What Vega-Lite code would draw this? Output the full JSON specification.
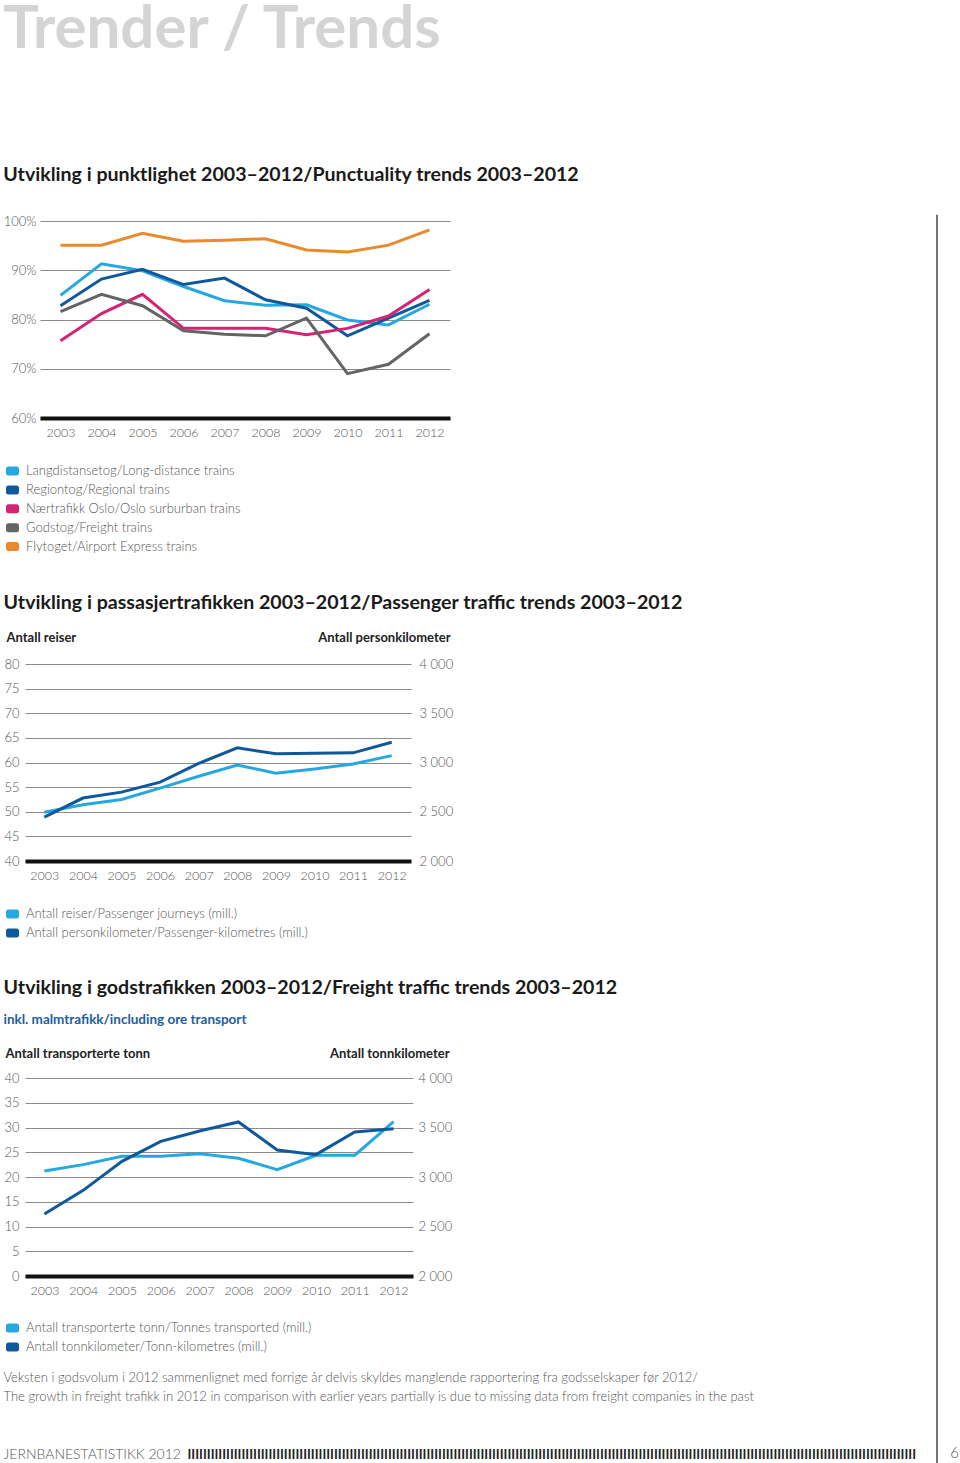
{
  "$schema": "https://vega.github.io/schema/vega-lite/v6.json",
  "background": "white",
  "padding": {"left": 3, "top": 0, "right": 0, "bottom": 0},
  "title": {"text": "Trender / Trends", "anchor": "start", "frame": "bounds", "fontSize": 60, "font": "Lato", "fontWeight": "bold", "color": "#d4d4d4", "offset": 96, "dy": -8},
  "datasets": {
    "punct": [
      {"year": "2003", "series": "Langdistansetog/Long-distance trains", "pct": 84.9},
      {"year": "2004", "series": "Langdistansetog/Long-distance trains", "pct": 91.3},
      {"year": "2005", "series": "Langdistansetog/Long-distance trains", "pct": 89.9},
      {"year": "2006", "series": "Langdistansetog/Long-distance trains", "pct": 86.7},
      {"year": "2007", "series": "Langdistansetog/Long-distance trains", "pct": 83.8},
      {"year": "2008", "series": "Langdistansetog/Long-distance trains", "pct": 82.9},
      {"year": "2009", "series": "Langdistansetog/Long-distance trains", "pct": 83.0},
      {"year": "2010", "series": "Langdistansetog/Long-distance trains", "pct": 79.9},
      {"year": "2011", "series": "Langdistansetog/Long-distance trains", "pct": 78.9},
      {"year": "2012", "series": "Langdistansetog/Long-distance trains", "pct": 83.1},
      {"year": "2003", "series": "Regiontog/Regional trains", "pct": 82.8},
      {"year": "2004", "series": "Regiontog/Regional trains", "pct": 88.2},
      {"year": "2005", "series": "Regiontog/Regional trains", "pct": 90.2},
      {"year": "2006", "series": "Regiontog/Regional trains", "pct": 87.1},
      {"year": "2007", "series": "Regiontog/Regional trains", "pct": 88.4},
      {"year": "2008", "series": "Regiontog/Regional trains", "pct": 84.0},
      {"year": "2009", "series": "Regiontog/Regional trains", "pct": 82.3},
      {"year": "2010", "series": "Regiontog/Regional trains", "pct": 76.7},
      {"year": "2011", "series": "Regiontog/Regional trains", "pct": 80.3},
      {"year": "2012", "series": "Regiontog/Regional trains", "pct": 83.9},
      {"year": "2003", "series": "Nærtrafikk Oslo/Oslo surburban trains", "pct": 75.7},
      {"year": "2004", "series": "Nærtrafikk Oslo/Oslo surburban trains", "pct": 81.2},
      {"year": "2005", "series": "Nærtrafikk Oslo/Oslo surburban trains", "pct": 85.1},
      {"year": "2006", "series": "Nærtrafikk Oslo/Oslo surburban trains", "pct": 78.2},
      {"year": "2007", "series": "Nærtrafikk Oslo/Oslo surburban trains", "pct": 78.2},
      {"year": "2008", "series": "Nærtrafikk Oslo/Oslo surburban trains", "pct": 78.2},
      {"year": "2009", "series": "Nærtrafikk Oslo/Oslo surburban trains", "pct": 76.9},
      {"year": "2010", "series": "Nærtrafikk Oslo/Oslo surburban trains", "pct": 78.2},
      {"year": "2011", "series": "Nærtrafikk Oslo/Oslo surburban trains", "pct": 80.7},
      {"year": "2012", "series": "Nærtrafikk Oslo/Oslo surburban trains", "pct": 86.1},
      {"year": "2003", "series": "Godstog/Freight trains", "pct": 81.6},
      {"year": "2004", "series": "Godstog/Freight trains", "pct": 85.1},
      {"year": "2005", "series": "Godstog/Freight trains", "pct": 82.8},
      {"year": "2006", "series": "Godstog/Freight trains", "pct": 77.7},
      {"year": "2007", "series": "Godstog/Freight trains", "pct": 77.0},
      {"year": "2008", "series": "Godstog/Freight trains", "pct": 76.7},
      {"year": "2009", "series": "Godstog/Freight trains", "pct": 80.3},
      {"year": "2010", "series": "Godstog/Freight trains", "pct": 69.0},
      {"year": "2011", "series": "Godstog/Freight trains", "pct": 70.9},
      {"year": "2012", "series": "Godstog/Freight trains", "pct": 77.1},
      {"year": "2003", "series": "Flytoget/Airport Express trains", "pct": 95.1},
      {"year": "2004", "series": "Flytoget/Airport Express trains", "pct": 95.1},
      {"year": "2005", "series": "Flytoget/Airport Express trains", "pct": 97.5},
      {"year": "2006", "series": "Flytoget/Airport Express trains", "pct": 95.9},
      {"year": "2007", "series": "Flytoget/Airport Express trains", "pct": 96.1},
      {"year": "2008", "series": "Flytoget/Airport Express trains", "pct": 96.4},
      {"year": "2009", "series": "Flytoget/Airport Express trains", "pct": 94.1},
      {"year": "2010", "series": "Flytoget/Airport Express trains", "pct": 93.7},
      {"year": "2011", "series": "Flytoget/Airport Express trains", "pct": 95.1},
      {"year": "2012", "series": "Flytoget/Airport Express trains", "pct": 98.2}
    ],
    "passenger": [
      {"year": "2003", "series": "Antall reiser/Passenger journeys (mill.)", "value": 49.9},
      {"year": "2004", "series": "Antall reiser/Passenger journeys (mill.)", "value": 51.4},
      {"year": "2005", "series": "Antall reiser/Passenger journeys (mill.)", "value": 52.5},
      {"year": "2006", "series": "Antall reiser/Passenger journeys (mill.)", "value": 54.8},
      {"year": "2007", "series": "Antall reiser/Passenger journeys (mill.)", "value": 57.2},
      {"year": "2008", "series": "Antall reiser/Passenger journeys (mill.)", "value": 59.5},
      {"year": "2009", "series": "Antall reiser/Passenger journeys (mill.)", "value": 57.8},
      {"year": "2010", "series": "Antall reiser/Passenger journeys (mill.)", "value": 58.7},
      {"year": "2011", "series": "Antall reiser/Passenger journeys (mill.)", "value": 59.7},
      {"year": "2012", "series": "Antall reiser/Passenger journeys (mill.)", "value": 61.4},
      {"year": "2003", "series": "Antall personkilometer/Passenger-kilometres (mill.)", "value": 2446},
      {"year": "2004", "series": "Antall personkilometer/Passenger-kilometres (mill.)", "value": 2639},
      {"year": "2005", "series": "Antall personkilometer/Passenger-kilometres (mill.)", "value": 2699},
      {"year": "2006", "series": "Antall personkilometer/Passenger-kilometres (mill.)", "value": 2801},
      {"year": "2007", "series": "Antall personkilometer/Passenger-kilometres (mill.)", "value": 2990},
      {"year": "2008", "series": "Antall personkilometer/Passenger-kilometres (mill.)", "value": 3149},
      {"year": "2009", "series": "Antall personkilometer/Passenger-kilometres (mill.)", "value": 3088},
      {"year": "2010", "series": "Antall personkilometer/Passenger-kilometres (mill.)", "value": 3095},
      {"year": "2011", "series": "Antall personkilometer/Passenger-kilometres (mill.)", "value": 3098},
      {"year": "2012", "series": "Antall personkilometer/Passenger-kilometres (mill.)", "value": 3206}
    ],
    "freight": [
      {"year": "2003", "series": "Antall transporterte tonn/Tonnes transported (mill.)", "value": 21.2},
      {"year": "2004", "series": "Antall transporterte tonn/Tonnes transported (mill.)", "value": 22.5},
      {"year": "2005", "series": "Antall transporterte tonn/Tonnes transported (mill.)", "value": 24.2},
      {"year": "2006", "series": "Antall transporterte tonn/Tonnes transported (mill.)", "value": 24.2},
      {"year": "2007", "series": "Antall transporterte tonn/Tonnes transported (mill.)", "value": 24.7},
      {"year": "2008", "series": "Antall transporterte tonn/Tonnes transported (mill.)", "value": 23.8},
      {"year": "2009", "series": "Antall transporterte tonn/Tonnes transported (mill.)", "value": 21.5},
      {"year": "2010", "series": "Antall transporterte tonn/Tonnes transported (mill.)", "value": 24.4},
      {"year": "2011", "series": "Antall transporterte tonn/Tonnes transported (mill.)", "value": 24.4},
      {"year": "2012", "series": "Antall transporterte tonn/Tonnes transported (mill.)", "value": 31.2},
      {"year": "2003", "series": "Antall tonnkilometer/Tonn-kilometres (mill.)", "value": 2626},
      {"year": "2004", "series": "Antall tonnkilometer/Tonn-kilometres (mill.)", "value": 2865},
      {"year": "2005", "series": "Antall tonnkilometer/Tonn-kilometres (mill.)", "value": 3158},
      {"year": "2006", "series": "Antall tonnkilometer/Tonn-kilometres (mill.)", "value": 3360},
      {"year": "2007", "series": "Antall tonnkilometer/Tonn-kilometres (mill.)", "value": 3465},
      {"year": "2008", "series": "Antall tonnkilometer/Tonn-kilometres (mill.)", "value": 3556},
      {"year": "2009", "series": "Antall tonnkilometer/Tonn-kilometres (mill.)", "value": 3273},
      {"year": "2010", "series": "Antall tonnkilometer/Tonn-kilometres (mill.)", "value": 3226},
      {"year": "2011", "series": "Antall tonnkilometer/Tonn-kilometres (mill.)", "value": 3455},
      {"year": "2012", "series": "Antall tonnkilometer/Tonn-kilometres (mill.)", "value": 3488}
    ],
    "notes": [
      {"note": "Veksten i godsvolum i 2012 sammenlignet med forrige år delvis skyldes manglende rapportering fra godsselskaper før 2012/\nThe growth  in freight trafikk in 2012 in comparison with earlier years partially is due to missing data from freight companies in the past"}
    ],
    "footer": [
      {"label": "JERNBANESTATISTIKK 2012", "bars": "IIIIIIIIIIIIIIIIIIIIIIIIIIIIIIIIIIIIIIIIIIIIIIIIIIIIIIIIIIIIIIIIIIIIIIIIIIIIIIIIIIIIIIIIIIIIIIIIIIIIIIIIIIIIIIIIIIIIIIIIIIIIIIIIIIIIIIIIIIIIIIIIIIIIIIIIIIIIIIIIIIIIIIIIIIIIIIIIIIIIIIIIIIIII", "page": "6"}
    ]
  },
  "hconcat": [
    {
      "concat": [
        {
          "hconcat": [
            {"width": 1, "height": 1, "data": {"values": []}, "mark": "point"},
            {
              "concat": [
                {
                  "hconcat": [
                    {"width": 1, "height": 1, "data": {"values": []}, "mark": "point"},
                    {
                      "title": {"text": "Utvikling i punktlighet 2003–2012/Punctuality trends 2003–2012", "offset": 29},
                      "width": 410, "height": 197,
                      "data": {"name": "punct"},
                      "mark": {"type": "line", "strokeWidth": 3},
                      "encoding": {
                        "x": {"field": "year", "type": "ordinal", "title": null, "scale": {"type": "point", "padding": 0.5}},
                        "y": {"field": "pct", "type": "quantitative", "title": null, "scale": {"domain": [60, 100]}, "axis": {"values": [60, 70, 80, 90, 100], "labelExpr": "datum.value + '%'", "labelPadding": 4}},
                        "color": {"field": "series", "type": "nominal", "sort": null,
                          "scale": {"domain": ["Langdistansetog/Long-distance trains", "Regiontog/Regional trains", "Nærtrafikk Oslo/Oslo surburban trains", "Godstog/Freight trains", "Flytoget/Airport Express trains"], "range": ["#25a8e0", "#10589c", "#d52373", "#646464", "#ea8a2c"]},
                          "legend": {"orient": "none", "legendX": -21.5, "legendY": 241, "symbolStrokeWidth": 5, "encode": {"symbols": {"update": {"strokeJoin": {"value": "round"}}}}}}
                      }
                    }
                  ],
                  "spacing": -23
                },
                {
                  "concat": [
                    {
                      "title": {"text": "Utvikling i passasjertrafikken 2003–2012/Passenger traffic trends 2003–2012", "offset": 17},
                      "width": 386, "height": 197,
                      "data": {"name": "passenger"},
                      "encoding": {
                        "x": {"field": "year", "type": "ordinal", "title": null, "scale": {"type": "point", "padding": 0.5}},
                        "color": {"field": "series", "type": "nominal", "sort": null,
                          "scale": {"domain": ["Antall reiser/Passenger journeys (mill.)", "Antall personkilometer/Passenger-kilometres (mill.)"], "range": ["#25a8e0", "#10589c"]},
                          "legend": {"orient": "none", "legendX": -21.5, "legendY": 241, "symbolStrokeWidth": 5, "encode": {"symbols": {"update": {"strokeJoin": {"value": "round"}}}}}}
                      },
                      "layer": [
                        {
                          "transform": [{"filter": "datum.series === 'Antall reiser/Passenger journeys (mill.)'"}],
                          "mark": {"type": "line", "strokeWidth": 3},
                          "encoding": {"y": {"field": "value", "type": "quantitative", "scale": {"domain": [40, 80]},
                            "axis": {"values": [40, 45, 50, 55, 60, 65, 70, 75, 80], "title": "Antall reiser", "titleAngle": 0, "titleAlign": "left", "titleBaseline": "middle", "titleX": -19, "titleY": -27}}}
                        },
                        {
                          "transform": [{"filter": "datum.series === 'Antall personkilometer/Passenger-kilometres (mill.)'"}],
                          "mark": {"type": "line", "strokeWidth": 3},
                          "encoding": {"y": {"field": "value", "type": "quantitative", "scale": {"domain": [2000, 4000]},
                            "axis": {"orient": "right", "grid": false, "values": [2000, 2500, 3000, 3500, 4000], "labelExpr": "replace(format(datum.value, ','), ',', ' ')", "labelPadding": 8, "title": "Antall personkilometer", "titleAngle": 0, "titleAlign": "right", "titleBaseline": "middle", "titleX": 39, "titleY": -27}}}
                        }
                      ],
                      "resolve": {"scale": {"y": "independent"}}
                    },
                    {
                      "title": {"text": "Utvikling i godstrafikken 2003–2012/Freight traffic trends 2003–2012", "subtitle": "inkl. malmtrafikk/including ore transport", "offset": 20},
                      "width": 388, "height": 198,
                      "data": {"name": "freight"},
                      "encoding": {
                        "x": {"field": "year", "type": "ordinal", "title": null, "scale": {"type": "point", "padding": 0.5}},
                        "color": {"field": "series", "type": "nominal", "sort": null,
                          "scale": {"domain": ["Antall transporterte tonn/Tonnes transported (mill.)", "Antall tonnkilometer/Tonn-kilometres (mill.)"], "range": ["#25a8e0", "#10589c"]},
                          "legend": {"orient": "none", "legendX": -21.5, "legendY": 241, "symbolStrokeWidth": 5, "encode": {"symbols": {"update": {"strokeJoin": {"value": "round"}}}}}}
                      },
                      "layer": [
                        {
                          "transform": [{"filter": "datum.series === 'Antall transporterte tonn/Tonnes transported (mill.)'"}],
                          "mark": {"type": "line", "strokeWidth": 3},
                          "encoding": {"y": {"field": "value", "type": "quantitative", "scale": {"domain": [0, 40]},
                            "axis": {"values": [0, 5, 10, 15, 20, 25, 30, 35, 40], "title": "Antall transporterte tonn", "titleAngle": 0, "titleAlign": "left", "titleBaseline": "middle", "titleX": -20, "titleY": -25}}}
                        },
                        {
                          "transform": [{"filter": "datum.series === 'Antall tonnkilometer/Tonn-kilometres (mill.)'"}],
                          "mark": {"type": "line", "strokeWidth": 3},
                          "encoding": {"y": {"field": "value", "type": "quantitative", "scale": {"domain": [2000, 4000]},
                            "axis": {"orient": "right", "grid": false, "values": [2000, 2500, 3000, 3500, 4000], "labelExpr": "replace(format(datum.value, ','), ',', ' ')", "labelPadding": 5, "title": "Antall tonnkilometer", "titleAngle": 0, "titleAlign": "right", "titleBaseline": "middle", "titleX": 36, "titleY": -25}}}
                        }
                      ],
                      "resolve": {"scale": {"y": "independent"}}
                    }
                  ],
                  "columns": 1, "spacing": 37,
                  "resolve": {"scale": {"color": "independent"}}
                }
              ],
              "columns": 1, "spacing": 39,
              "resolve": {"scale": {"color": "independent"}}
            }
          ],
          "spacing": -1
        },
        {
          "concat": [
            {
              "width": 1, "height": 1,
              "data": {"name": "notes"},
              "mark": {"type": "text", "align": "left", "baseline": "top", "lineBreak": "\n", "lineHeight": 19, "fontSize": 13, "color": "#555"},
              "encoding": {"text": {"field": "note", "type": "nominal"}}
            },
            {
              "hconcat": [
                {
                  "width": 1, "height": 1,
                  "data": {"name": "footer"},
                  "mark": {"type": "text", "align": "left", "baseline": "middle", "fontSize": 14, "color": "#555"},
                  "encoding": {"text": {"field": "label", "type": "nominal"}}
                },
                {
                  "width": 1, "height": 1,
                  "data": {"name": "footer"},
                  "mark": {"type": "text", "align": "left", "baseline": "middle", "fontSize": 13, "fontWeight": "bold", "color": "#222"},
                  "encoding": {"text": {"field": "bars", "type": "nominal"}}
                }
              ],
              "spacing": 6
            }
          ],
          "columns": 1, "spacing": 43
        }
      ],
      "columns": 1, "spacing": 17
    },
    {
      "width": 22, "height": 1242,
      "data": {"name": "footer"},
      "layer": [
        {
          "mark": {"type": "rule", "color": "#444", "strokeWidth": 1.5},
          "encoding": {
            "x": {"datum": 0, "type": "quantitative", "scale": {"domain": [0, 1]}, "axis": null},
            "y": {"datum": 1.005, "type": "quantitative", "scale": {"domain": [0, 1]}, "axis": null},
            "y2": {"datum": 0}
          }
        },
        {
          "mark": {"type": "text", "align": "right", "baseline": "middle", "fontSize": 15, "color": "#555"},
          "encoding": {
            "text": {"field": "page", "type": "nominal"},
            "x": {"datum": 1, "type": "quantitative"},
            "y": {"datum": 0.008, "type": "quantitative"}
          }
        }
      ]
    }
  ],
  "spacing": 19,
  "config": {
    "font": "Lato",
    "view": {"stroke": null},
    "title": {"anchor": "start", "frame": "bounds", "fontSize": 19.6, "font": "Lato", "fontWeight": "bold", "color": "#1a1a1a", "subtitleFont": "Lato", "subtitleFontSize": 13.5, "subtitleFontWeight": "bold", "subtitleColor": "#1d5e9c", "subtitlePadding": 14},
    "axis": {"labelFont": "Lato", "labelFontWeight": 300, "labelColor": "#555", "labelFontSize": 12.5, "ticks": false, "domain": false, "titleFont": "Lato", "titleFontSize": 13, "titleFontWeight": "bold", "titleColor": "#222"},
    "axisX": {"domain": true, "domainWidth": 4, "domainColor": "#111", "labelAngle": 0, "labelPadding": 8, "grid": false},
    "axisY": {"grid": true, "gridColor": "#8c8c8c", "gridWidth": 1, "labelPadding": 6, "labelFontSize": 13},
    "legend": {"title": null, "labelFont": "Lato", "labelFontWeight": 300, "labelFontSize": 13, "labelColor": "#555", "labelLimit": 0, "labelOffset": 4.5, "rowPadding": 2.9, "symbolType": "M-0.615,-0.308H0.615V0.308H-0.615Z", "symbolSize": 169, "symbolStrokeWidth": 5, "direction": "vertical"},
    "text": {"font": "Lato", "fontWeight": 300}
  }
}
